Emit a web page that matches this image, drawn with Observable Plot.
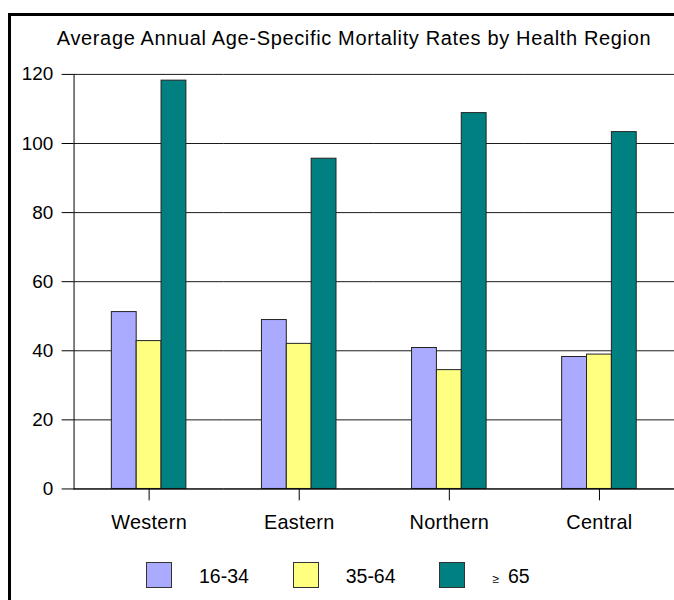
<!DOCTYPE html>
<html><head><meta charset="utf-8">
<script src="https://cdn.jsdelivr.net/npm/d3@7"></script>
<script src="https://cdn.jsdelivr.net/npm/@observablehq/plot@0.6"></script>
<style>
html,body{margin:0;padding:0;background:#fff;overflow:hidden;}
#wrap{position:relative;width:674px;height:600px;overflow:hidden;font-family:Arial,"Liberation Sans",sans-serif;color:#000;}
#frame{position:absolute;left:8px;top:13px;width:700px;height:640px;border-left:3px solid #000;border-top:3px solid #000;}
#title{position:absolute;left:0;top:29px;width:708px;text-align:center;font-size:20px;line-height:19px;letter-spacing:0.65px;white-space:nowrap;}
#chart{position:absolute;left:0;top:60px;}
#legend{position:absolute;left:146px;top:562px;display:flex;}
.item{display:flex;align-items:flex-start;width:146.7px;}
.sw{width:24px;height:24px;border:1px solid #333;margin-right:27px;}
.lab{font-size:19.5px;line-height:19px;margin-top:5px;white-space:nowrap;}
.ge{font-size:12px;margin-right:9px;}
#chart g[aria-label="fx-axis tick label"] text{font-size:20px;letter-spacing:0.3px;}
</style></head>
<body>
<div id="wrap">
  <div id="frame"></div>
  <div id="title"></div>
  <div id="chart"></div>
  <div id="legend"></div>
</div>
<script>
const titleText = "Average Annual Age-Specific Mortality Rates by Health Region";
const regions = ["Western", "Eastern", "Northern", "Central"];
const ageGroups = ["16-34", "35-64", "≥ 65"];
const rate16to34 = [51.2, 48.9, 40.8, 38.2];
const rate35to64 = [42.8, 42.0, 34.4, 38.9];
const rate65plus = [118.2, 95.6, 108.8, 103.3];
const yTicks = [0, 20, 40, 60, 80, 100, 120];
const colors = ["#AAAAFF", "#FFFF80", "#008080"];

const series = [rate16to34, rate35to64, rate65plus];
const rows = [];
regions.forEach((r, i) => ageGroups.forEach((a, j) => rows.push({region: r, age: a, rate: series[j][i]})));

document.getElementById("title").textContent = titleText;

const chart = Plot.plot({
  width: 678,
  height: 482,
  marginTop: 14,
  marginLeft: 74,
  marginRight: 0,
  marginBottom: 51,
  style: {fontFamily: 'Arial, "Liberation Sans", sans-serif', fontSize: "19px", color: "#000", background: "transparent", overflow: "visible"},
  fx: {domain: regions, padding: 0, label: null, axis: "bottom", tickSize: 12, tickPadding: 14},
  x: {domain: ageGroups, paddingInner: 0, paddingOuter: 1.5, axis: null},
  y: {domain: [0, 120], ticks: yTicks, tickSize: 12, tickPadding: 9, label: null},
  color: {domain: ageGroups, range: colors},
  marks: [
    Plot.ruleY(yTicks, {stroke: "#000", strokeOpacity: 0.9}),
    Plot.frame({anchor: "left", facetAnchor: "left", stroke: "#000"}),
    Plot.barY(rows, {fx: "region", x: "age", y: "rate", fill: "age", stroke: "#222", strokeWidth: 1}),
    Plot.ruleY([0], {stroke: "#000"})
  ]
});
document.getElementById("chart").appendChild(chart);

const legend = document.getElementById("legend");
ageGroups.forEach((a, j) => {
  const item = document.createElement("div");
  item.className = "item";
  const sw = document.createElement("div");
  sw.className = "sw";
  sw.style.background = colors[j];
  const lab = document.createElement("div");
  lab.className = "lab";
  if (a.startsWith("≥")) {
    const ge = document.createElement("span");
    ge.className = "ge";
    ge.textContent = "≥";
    lab.appendChild(ge);
    lab.appendChild(document.createTextNode(a.slice(1).trim()));
  } else {
    lab.textContent = a;
  }
  item.appendChild(sw);
  item.appendChild(lab);
  legend.appendChild(item);
});
</script>
</body></html>
